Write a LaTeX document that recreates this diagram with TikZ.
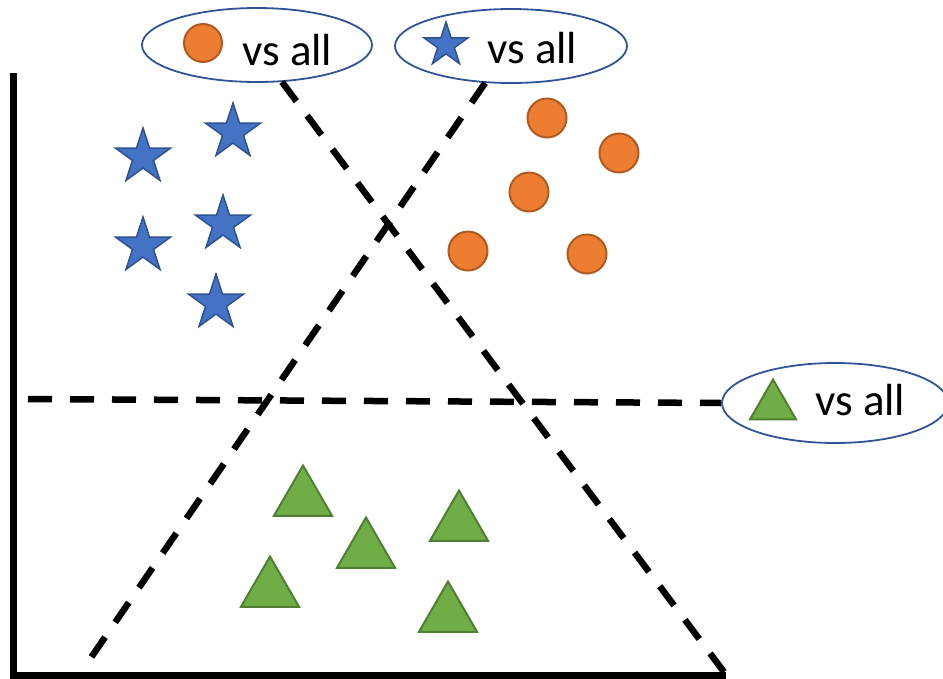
\documentclass[tikz,border=0pt]{standalone}
\usepackage{fontspec}
\setmainfont{Carlito}
\usetikzlibrary{shapes.geometric}
\definecolor{ellblue}{HTML}{2F5597}
\definecolor{starfill}{HTML}{4472C4}
\definecolor{starline}{HTML}{2F528F}
\definecolor{orfill}{HTML}{ED7D31}
\definecolor{orline}{HTML}{AE5A21}
\definecolor{grfill}{HTML}{70AD47}
\definecolor{grline}{HTML}{507E32}
\tikzset{
  bigstar/.style={star, star points=5, star point ratio=2.618, minimum size=58pt, inner sep=0pt, fill=starfill, draw=starline, line width=1.5pt},
  smallstar/.style={bigstar, minimum size=46pt},
  dot/.style={circle, minimum size=39pt, inner sep=0pt, fill=orfill, draw=orline, line width=2pt},
  smalldot/.style={dot, minimum size=38pt},
  tri/.style={regular polygon, regular polygon sides=3, minimum size=67pt, inner sep=0pt, fill=grfill, draw=grline, line width=2pt},
  smalltri/.style={tri, minimum size=53pt},
  label ell/.style={ellipse, draw=ellblue, line width=1.8pt, inner sep=0pt},
  vstext/.style={anchor=base west, inner sep=0pt, font=\fontsize{45}{54}\selectfont},
  axisline/.style={line width=7pt},
  dashline/.style={line width=6.5pt, dash pattern=on 24pt off 18pt}
}
\begin{document}
\begin{tikzpicture}[x=1pt,y=-1pt]
\useasboundingbox (0,0) rectangle (943,678);
% axes
\coordinate (ytop) at (13,73);
\coordinate (origin) at (13,675);
\coordinate (xend) at (726,675);
\draw[axisline] (ytop) -- (origin) -- (xend);
% label ellipses
\node[label ell, minimum width=230pt, minimum height=74pt] (oell) at (257,45) {};
\node[label ell, minimum width=232pt, minimum height=74pt] (sell) at (511,46) {};
\node[label ell, minimum width=226pt, minimum height=80pt] (tell) at (835,403) {};
\node[smalldot] (od) at (203,43) {};
\node[vstext] (ot) at (242,65) {vs all};
\node[smallstar] (ss) at (446,45) {};
\node[vstext] (st) at (487,63) {vs all};
\node[smalltri] (ts) at (773,406) {};
\node[vstext] (tt) at (815,415) {vs all};
% dashed separators
\coordinate (aend) at (724,672);
\coordinate (bend) at (88,662);
\coordinate (hstart) at (28,399);
\draw[dashline] (oell.-56) -- (aend);
\draw[dashline] (sell.-125) -- (bend);
\draw[dashline] (hstart) -- (tell.west);
% stars
\node[bigstar] (s1) at (143,157) {};
\node[bigstar] (s2) at (233,132) {};
\node[bigstar] (s3) at (143,246) {};
\node[bigstar] (s4) at (223,224) {};
\node[bigstar] (s5) at (216,303) {};
% circles
\node[dot] (c1) at (547,118) {};
\node[dot] (c2) at (619,153) {};
\node[dot] (c3) at (529,192) {};
\node[dot] (c4) at (468,251) {};
\node[dot] (c5) at (587,254) {};
% triangles
\node[tri] (t1) at (303,499) {};
\node[tri] (t2) at (366,551) {};
\node[tri] (t3) at (459,524) {};
\node[tri] (t4) at (270,590) {};
\node[tri] (t5) at (448,615) {};
\end{tikzpicture}
\end{document}
